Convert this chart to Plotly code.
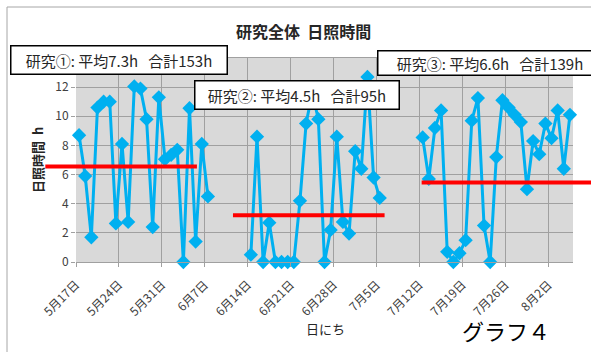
import pandas as pd
import plotly.graph_objects as go

# ---- data ----
s1_start, s2_start, s3_start = "2023-05-17", "2023-06-14", "2023-07-12"
s1_vals = [8.7, 5.9, 1.7, 10.6, 11.0, 11.0, 2.65, 8.1, 2.75, 12.05, 11.9, 9.8,
           2.4, 11.3, 7.05, 7.35, 7.7, 0.0, 10.55, 1.4, 8.1, 4.5]
s2_vals = [0.5, 8.6, 0.0, 2.7, 0.0, 0.0, 0.0, 0.0, 4.2, 9.5, 11.6, 9.8,
           0.0, 2.2, 8.6, 2.75, 1.95, 7.6, 6.4, 12.7, 5.8, 4.4]
s3_vals = [8.55, 5.7, 9.2, 10.4, 0.7, 0.0, 0.6, 1.5, 9.7, 11.25, 2.5, 0.0,
           7.2, 11.1, 10.6, 10.1, 9.6, 5.0, 8.3, 7.4, 9.5, 8.5, 10.4, 6.4, 10.1]
avg_levels = [6.55, 3.2, 5.45]
avg_from = ["2023-05-12", "2023-06-11 14:00", "2023-07-12 08:00"]
avg_to = ["2023-06-05 17:00", "2023-07-06 07:00", "2023-08-12"]
NB = "\u00a0"
box_texts = ["研究①:" + NB + "平均7.3h" + NB * 3 + "合計153h",
             "研究②:" + NB + "平均4.5h" + NB * 3 + "合計95h",
             "研究③:" + NB + "平均6.6h" + NB * 3 + "合計139h"]
title_text = "研究全体" + NB + NB + "日照時間"
y_title = "日照時間" + NB + NB + "h"
x_title = "日にち"
graph_label = "グラフ４"
y_ticks = [0, 2, 4, 6, 8, 10, 12]

x_range = [pd.Timestamp("2023-05-17"), pd.Timestamp("2023-08-06")]

# ---- geometry helpers (pixel -> paper) ----
W, H = 591, 352
L, R, T, B = 76, 18, 58, 90
PW, PH = W - L - R, H - T - B


def px(x):
    return (x - L) / PW


def py(y):
    return (H - B - y) / PH


def date_to_paper(d):
    d = pd.Timestamp(d)
    return (d - x_range[0]) / (x_range[1] - x_range[0])


half_day = pd.Timedelta(hours=12)
fig = go.Figure()
for start, vals in [(s1_start, s1_vals), (s2_start, s2_vals), (s3_start, s3_vals)]:
    dates = pd.date_range(start, periods=len(vals), freq="D") + half_day
    fig.add_trace(go.Scatter(
        x=dates, y=vals, mode="lines+markers",
        line=dict(color="#00B0F0", width=3),
        marker=dict(symbol="diamond", size=11, color="#00B0F0"),
        cliponaxis=False, showlegend=False))

shapes = []
# chart border
shapes.append(dict(type="rect", xref="paper", yref="paper",
                   x0=px(7), x1=px(W + 20), y0=py(H + 20), y1=py(7),
                   line=dict(color="#A6A6A6", width=1), layer="below"))
for lvl, a, b in zip(avg_levels, avg_from, avg_to):
    shapes.append(dict(type="line", xref="paper", yref="y",
                       x0=date_to_paper(a), x1=date_to_paper(b), y0=lvl, y1=lvl,
                       line=dict(color="#FF0000", width=4), layer="above"))

annotations = []
boxes = [(10, 45, 218, 30), (194, 80, 206, 30), (377, 50, 226, 26)]
for txt, (bx, by, bw, bh) in zip(box_texts, boxes):
    annotations.append(dict(
        text=txt, xref="paper", yref="paper", x=px(bx), y=py(by),
        xanchor="left", yanchor="top", showarrow=False, align="center",
        width=bw - 7, height=bh - 7, borderpad=2,
        bgcolor="white", bordercolor="#000000", borderwidth=1.5,
        font=dict(family="Noto Sans CJK JP", size=15, color="#262626")))
annotations.append(dict(text="<b>" + title_text + "</b>", xref="paper", yref="paper",
                        x=px(303), y=py(31), xanchor="center", yanchor="middle",
                        showarrow=False, font=dict(family="Noto Sans CJK JP", size=16, color="#262626")))
annotations.append(dict(text=x_title, xref="paper", yref="paper",
                        x=px(325), y=py(328), xanchor="center", yanchor="middle",
                        showarrow=False, font=dict(family="Noto Sans CJK JP", size=13, color="#262626")))
annotations.append(dict(text="<b>" + y_title + "</b>", xref="paper", yref="paper",
                        x=px(37), y=py(160), xanchor="center", yanchor="middle", textangle=-90,
                        showarrow=False, font=dict(family="Noto Sans CJK JP", size=13, color="#262626")))
annotations.append(dict(text=graph_label, xref="paper", yref="paper",
                        x=px(506), y=py(332), xanchor="center", yanchor="middle",
                        showarrow=False, font=dict(family="DejaVu Serif, Noto Sans CJK JP", size=22, color="#000000")))

fig.update_layout(
    width=W, height=H,
    margin=dict(l=L, r=R, t=T, b=B),
    paper_bgcolor="white", plot_bgcolor="#D9D9D9",
    shapes=shapes, annotations=annotations,
    font=dict(family="Noto Sans CJK JP", color="#404040"),
)
fig.update_xaxes(type="date", range=x_range, tick0="2023-05-17", dtick=7 * 86400000,
                 tickformat="%-m月%-d日", tickangle=-45, tickfont=dict(size=12, color="#404040"),
                 ticklabelstandoff=6,
                 showgrid=True, gridcolor="#A0A0A0", gridwidth=1,
                 ticks="outside", ticklen=4, tickcolor="#A0A0A0",
                 showline=True, linecolor="#A0A0A0", mirror=True, zeroline=False)
fig.update_yaxes(range=[0, 14], tickvals=y_ticks, tickfont=dict(size=12, color="#404040"),
                 showgrid=True, gridcolor="#A0A0A0", gridwidth=1,
                 ticks="outside", ticklen=4, tickcolor="#A0A0A0",
                 showline=False, zeroline=False)

fig.write_html("out.html")
